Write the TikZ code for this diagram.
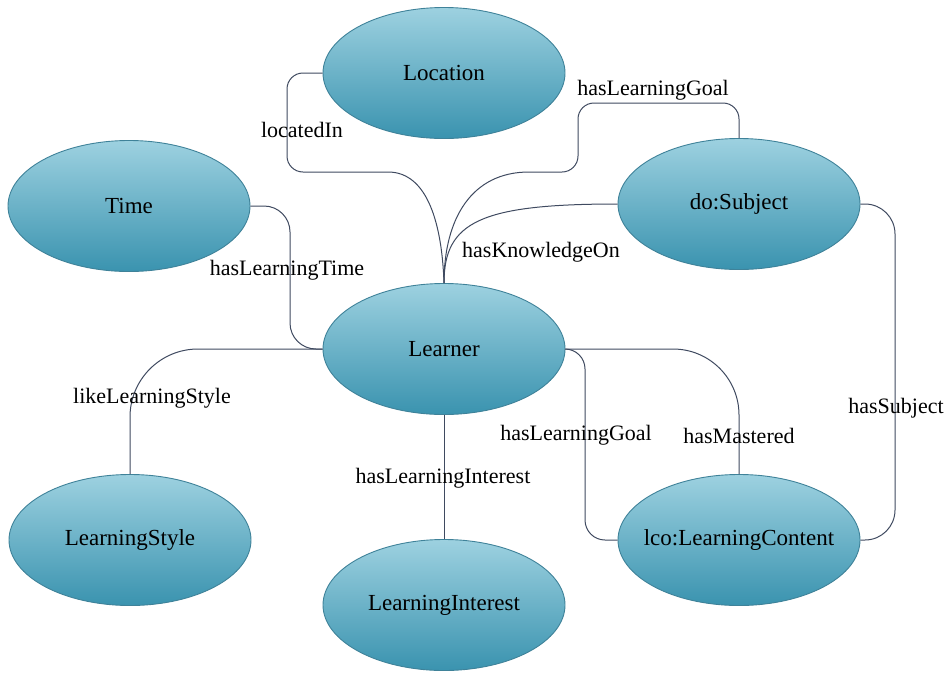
\documentclass[tikz,border=0pt]{standalone}
\usepackage{fontspec}
\setmainfont{Liberation Serif}
\newfontfamily\timesfont{Liberation Serif}
\usetikzlibrary{shapes.geometric}
\definecolor{ovaltop}{HTML}{9DD1E0}
\definecolor{ovalbot}{HTML}{3A93AF}
\definecolor{ovalrim}{HTML}{3F8299}
\definecolor{linkcol}{HTML}{3F4A60}
\tikzset{
  concept/.style={ellipse, draw=ovalrim, line width=0.9pt, top color=ovaltop,
    bottom color=ovalbot, minimum width=242pt, minimum height=131pt, inner sep=0pt,
    font=\timesfont\fontsize{23}{26}\selectfont, text=black},
  link/.style={draw=linkcol, line width=1pt},
  rel/.style={font=\timesfont\fontsize{22}{25}\selectfont, inner sep=1pt}
}
\begin{document}
\begin{tikzpicture}[x=1pt, y=-1pt]
  \useasboundingbox (0,0) rectangle (949,672);
  % classes
  \node[concept] (loc) at (444,73)  {Location};
  \node[concept] (tim) at (129,206) {Time};
  \node[concept] (sub) at (739,204) {do:Subject};
  \node[concept] (ler) at (444,349) {Learner};
  \node[concept] (sty) at (130,540) {LearningStyle};
  \node[concept] (int) at (444,605) {LearningInterest};
  \node[concept, inner xsep=-16pt] (lco) at (739,540) {lco:LearningContent};
  % properties
  \draw[link, rounded corners=16] (loc.west) -| (287,172) -- (372,172)
    .. controls (428,172) and (442,225) .. (ler.north);
  \draw[link, rounded corners=16] (ler.north) .. controls (444,218) and (472,172) .. (545,172)
    -- (578,172) -- (578,103) -| (sub.north);
  \draw[link] (sub.west) .. controls (480,204) and (444,222) .. (ler.north);
  \draw[link, rounded corners=26] (tim.east) -- (290,206) |- (ler.west);
  \draw[link, rounded corners=68] (ler.west) -| (sty.north);
  \draw[link] (ler.south) -- (int.north);
  \draw[link, rounded corners=20] (ler.east) -- (585,349) |- (lco.west);
  \draw[link, rounded corners=66] (ler.east) -| (lco.north);
  \draw[link, rounded corners=30] (sub.east) -- (895,204) |- (lco.east);
  % labels
  \node[rel] (l1) at (302,130) {locatedIn};
  \node[rel] (l2) at (653,90)  {hasLearningGoal};
  \node[rel] (l3) at (541,252) {hasKnowledgeOn};
  \node[rel] (l4) at (287,270) {hasLearningTime};
  \node[rel] (l5) at (152,398) {likeLearningStyle};
  \node[rel] (l6) at (443,478) {hasLearningInterest};
  \node[rel] (l7) at (576,435) {hasLearningGoal};
  \node[rel] (l8) at (739,436) {hasMastered};
  \node[rel] (l9) at (896,408) {hasSubject};
\end{tikzpicture}
\end{document}
